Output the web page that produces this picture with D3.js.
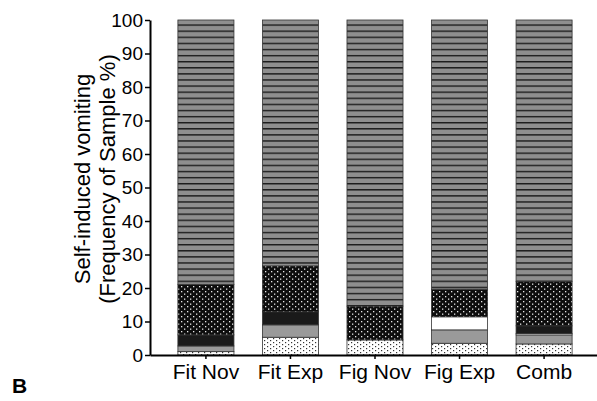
<!DOCTYPE html>
<html>
<head>
<meta charset="utf-8">
<script src="https://cdn.jsdelivr.net/npm/d3@7"></script>
<style>
html,body{margin:0;padding:0;background:#fff;}
svg{display:block;font-family:Arial,"Liberation Sans",sans-serif;}
</style>
</head>
<body>
<svg id="chart" width="597" height="401"></svg>
<script>
const categories = ["Fit Nov","Fit Exp","Fig Nov","Fig Exp","Comb"];
const dottedWhite = [1.0, 5.3, 4.5, 3.5, 3.3];
const graySolid   = [1.7, 3.7, 0.0, 4.0, 2.7];
const whiteSolid  = [0.0, 0.0, 0.0, 3.9, 0.4];
const blackSolid  = [3.3, 3.9, 0.0, 0.0, 2.3];
const dottedBlack = [15.1, 13.7, 10.1, 8.2, 13.3];
const striped     = [78.9, 73.4, 85.4, 80.4, 78.0];
const yTicks = [0,10,20,30,40,50,60,70,80,90,100];
const seriesKeys = ["dottedWhite","graySolid","whiteSolid","blackSolid","dottedBlack","striped"];
const seriesVals = {dottedWhite, graySolid, whiteSolid, blackSolid, dottedBlack, striped};

const table = categories.map((c,i)=>{
  const o = {cat:c};
  seriesKeys.forEach(k=>o[k]=seriesVals[k][i]);
  return o;
});

const svg = d3.select("#chart");
const defs = svg.append("defs");

// dotted white pattern
const pw = defs.append("pattern").attr("id","dotWhite").attr("patternUnits","userSpaceOnUse")
  .attr("width",6).attr("height",4);
pw.append("rect").attr("width",6).attr("height",4).attr("fill","#fff");
pw.append("rect").attr("x",0).attr("y",0).attr("width",1.2).attr("height",1.2).attr("fill","#333");
pw.append("rect").attr("x",3).attr("y",2).attr("width",1.2).attr("height",1.2).attr("fill","#333");

// dotted black pattern
const pb = defs.append("pattern").attr("id","dotBlack").attr("patternUnits","userSpaceOnUse")
  .attr("width",6).attr("height",5);
pb.append("rect").attr("width",6).attr("height",5).attr("fill","#0d0d0d");
pb.append("rect").attr("x",1).attr("y",1).attr("width",1.3).attr("height",1.3).attr("fill","#e8e8e8");
pb.append("rect").attr("x",4).attr("y",3.5).attr("width",1.3).attr("height",1.3).attr("fill","#e8e8e8");

// striped pattern
const ps = defs.append("pattern").attr("id","stripes").attr("patternUnits","userSpaceOnUse")
  .attr("width",10).attr("height",6.1);
ps.append("rect").attr("width",10).attr("height",6.1).attr("fill","#8e8e8e");
ps.append("rect").attr("x",0).attr("y",0).attr("width",10).attr("height",1.4).attr("fill","#1a1a1a");

const fills = {
  dottedWhite:"url(#dotWhite)",
  graySolid:"#9a9a9a",
  whiteSolid:"#ffffff",
  blackSolid:"#1a1a1a",
  dottedBlack:"url(#dotBlack)",
  striped:"url(#stripes)"
};

const x = d3.scaleBand().domain(categories).range([150,600]).paddingInner(0.337).paddingOuter(0.33);
const y = d3.scaleLinear().domain([0,100]).range([355,20]);

const stack = d3.stack().keys(seriesKeys);
const layers = stack(table);

const g = svg.append("g");
layers.forEach(layer=>{
  g.selectAll(null).data(layer).join("rect")
    .attr("x", d=>x(d.data.cat))
    .attr("width", x.bandwidth())
    .attr("y", d=>y(d[1]))
    .attr("height", d=>Math.max(0, y(d[0])-y(d[1])))
    .attr("fill", fills[layer.key])
    .attr("stroke", "#333")
    .attr("stroke-width", 0.8)
    .attr("display", d=>(d[1]-d[0])>0?null:"none");
});

// y axis
const yAxis = d3.axisLeft(y).tickValues(yTicks).tickSize(5).tickPadding(2).tickSizeOuter(0);
const ya = svg.append("g").attr("transform","translate(150,0)").call(yAxis);
ya.attr("font-size",null).attr("font-family",null);
ya.select(".domain").attr("stroke","#000").attr("stroke-width",2);
ya.selectAll(".tick line").attr("stroke","#000").attr("stroke-width",1.5);
ya.selectAll(".tick text").style("font-size","19px").attr("fill","#000");

// x axis
const xAxis = d3.axisBottom(x).tickSize(4).tickPadding(5).tickSizeOuter(0);
const xa = svg.append("g").attr("transform","translate(0,355)").call(xAxis);
xa.attr("font-size",null).attr("font-family",null);
xa.select(".domain").attr("stroke","#000").attr("stroke-width",2);
xa.selectAll(".tick line").attr("stroke","#000").attr("stroke-width",1.5);
xa.selectAll(".tick text").style("font-size","21px").attr("fill","#000");

// y title
const yt = svg.append("text").attr("transform","translate(90,179) rotate(-90)")
  .attr("text-anchor","middle").style("font-size","22px").attr("fill","#000");
yt.append("tspan").attr("x",0).attr("y",0).text("Self-induced vomiting");
yt.append("tspan").attr("x",0).attr("y",25).text("(Frequency of Sample %)");

// panel label
svg.append("text").attr("x",12).attr("y",393).style("font-size","21px").attr("font-weight","bold")
  .attr("fill","#000").text("B");
</script>
</body>
</html>
